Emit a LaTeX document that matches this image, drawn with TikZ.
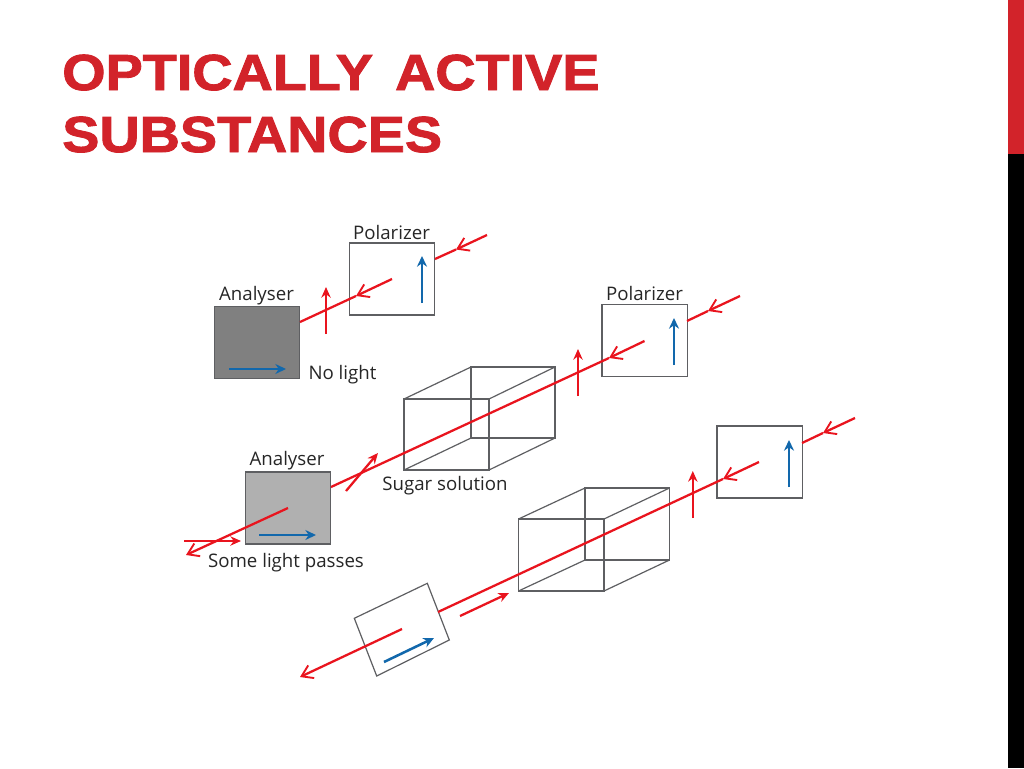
\documentclass[tikz,border=0pt]{standalone}
\usepackage{fontspec}
\setmainfont{Open Sans}
\newfontfamily\titlefont{Liberation Sans Bold}[FakeStretch=1.1,FakeBold=1.8]
\usetikzlibrary{arrows.meta}
\definecolor{rayred}{HTML}{E9141E}
\definecolor{polblue}{HTML}{1268AC}
\definecolor{edgegrey}{HTML}{5E5F62}
\definecolor{titlered}{HTML}{D2232A}
\tikzset{
  px/.style={x=0.75pt,y=-0.75pt},
  platebox/.style={draw=edgegrey,line width=1pt,minimum width=64pt,minimum height=54pt,inner sep=0pt,outer sep=0pt},
  ray/.style={draw=rayred,line width=1.7pt},
  rayhead/.style={ray,-{Straight Barb[length=8pt,width=10.5pt,line width=1.4pt]}},
  raysolid/.style={ray,-{Stealth[length=8pt,width=7pt]}},
  axis/.style={draw=polblue,line width=1.9pt,-{Stealth[length=8pt,width=7.5pt]}},
  edge/.style={draw=edgegrey,line width=0.9pt},
  caption/.style={inner sep=0pt,font=\fontsize{14pt}{16pt}\selectfont,text=black!85},
  heading/.style={inner sep=0pt,anchor=base west,text=titlered,font=\titlefont\fontsize{38pt}{44pt}\selectfont}
}
\begin{document}
\begin{tikzpicture}[px]
\useasboundingbox (0,0) rectangle (1024,768);
\fill[white] (0,0) rectangle (1024,768);
\fill[titlered] (1008,0) rectangle (1024,154);
\fill[black] (1008,154) rectangle (1024,768);
\node[heading] (t1) at (62,90) {OPTICALLY\hspace{5pt} ACTIVE};
\node[heading] (t2) at (62,152) {SUBSTANCES};

% top set-up
\node[platebox,fill=white] (pol1) at (392,279) {};
\node[platebox,fill=black!50] (ana1) at (257,342.5) {};
\node[caption] (lp1) at (391.5,232) {Polarizer};
\node[caption] (la1) at (256.5,295.5) {Analyser};
\node[caption] (ln1) at (342.5,374.5) {No light};
\coordinate (r1a) at (487,235); \coordinate (r1b) at (456,249.5); \coordinate (r1c) at (435,259);
\coordinate (r1d) at (392,279); \coordinate (r1e) at (356,296); \coordinate (r1f) at (300,322);
\coordinate (v1a) at (326,334); \coordinate (v1b) at (326,287);
\coordinate (b1a) at (422,303); \coordinate (b1b) at (422,256);
\coordinate (b1c) at (229,369); \coordinate (b1d) at (286,369);
\draw[rayhead] (r1a) -- (r1b); \draw[ray] (r1b) -- (r1c);
\draw[rayhead] (r1d) -- (r1e); \draw[ray] (r1e) -- (r1f);
\draw[raysolid] (v1a) -- (v1b);
\draw[axis] (b1a) -- (b1b);
\draw[axis] (b1c) -- (b1d);

% middle set-up
\node[platebox,fill=white] (pol2) at (644.5,340.5) {};
\node[platebox,fill=black!31] (ana2) at (288,508) {};
\node[caption] (lp2) at (644.5,293) {Polarizer};
\node[caption] (la2) at (287,461) {Analyser};
\node[caption] (ls2) at (445,485.5) {Sugar solution};
\node[caption] (lq2) at (286,562.5) {Some light passes};
\coordinate (c2a) at (404,399); \coordinate (c2b) at (489,399); \coordinate (c2c) at (489,470); \coordinate (c2d) at (404,470);
\coordinate (c2e) at (471,367); \coordinate (c2f) at (555,367); \coordinate (c2g) at (555,438); \coordinate (c2h) at (471,438);
\draw[edge] (c2a) -- (c2b) -- (c2c) -- (c2d) -- cycle;
\draw[edge] (c2e) -- (c2f) -- (c2g) -- (c2h) -- cycle;
\draw[edge] (c2a) -- (c2e); \draw[edge] (c2b) -- (c2f); \draw[edge] (c2c) -- (c2g); \draw[edge] (c2d) -- (c2h);
\coordinate (r2a) at (740,296); \coordinate (r2b) at (708,311); \coordinate (r2c) at (687,321);
\coordinate (r2d) at (644.5,341); \coordinate (r2e) at (609,358); \coordinate (r2f) at (331,487);
\coordinate (v2a) at (578,396); \coordinate (v2b) at (578,349);
\coordinate (b2a) at (674,365); \coordinate (b2b) at (674,318);
\coordinate (b2c) at (259,535); \coordinate (b2d) at (316,535);
\coordinate (d2a) at (346,491); \coordinate (d2b) at (378,453);
\coordinate (r2g) at (288,508); \coordinate (r2h) at (186,555);
\coordinate (h2a) at (184,541); \coordinate (h2b) at (241,541);
\draw[rayhead] (r2a) -- (r2b); \draw[ray] (r2b) -- (r2c);
\draw[rayhead] (r2d) -- (r2e); \draw[ray] (r2e) -- (r2f);
\draw[raysolid] (v2a) -- (v2b);
\draw[raysolid] (d2a) -- (d2b);
\draw[axis] (b2a) -- (b2b);
\draw[axis] (b2c) -- (b2d);
\draw[rayhead] (r2g) -- (r2h);
\draw[raysolid] (h2a) -- (h2b);

% bottom set-up
\node[platebox,fill=white] (pol3) at (759.5,462) {};
\coordinate (q1) at (354.3,618.3); \coordinate (q2) at (427.3,583.3); \coordinate (q3) at (449.3,640); \coordinate (q4) at (376.7,676);
\draw[edge] (q1) -- (q2) -- (q3) -- (q4) -- cycle;
\coordinate (c3a) at (518.5,519); \coordinate (c3b) at (604,519); \coordinate (c3c) at (604,591); \coordinate (c3d) at (518.5,591);
\coordinate (c3e) at (585,488); \coordinate (c3f) at (669.5,488); \coordinate (c3g) at (669.5,560); \coordinate (c3h) at (585,560);
\draw[edge] (c3a) -- (c3b) -- (c3c) -- (c3d) -- cycle;
\draw[edge] (c3e) -- (c3f) -- (c3g) -- (c3h) -- cycle;
\draw[edge] (c3a) -- (c3e); \draw[edge] (c3b) -- (c3f); \draw[edge] (c3c) -- (c3g); \draw[edge] (c3d) -- (c3h);
\coordinate (r3a) at (855,418); \coordinate (r3b) at (823,433); \coordinate (r3c) at (802,443);
\coordinate (r3d) at (759,462); \coordinate (r3e) at (723,479); \coordinate (r3f) at (438,612);
\coordinate (v3a) at (692.8,518); \coordinate (v3b) at (692.8,471);
\coordinate (b3a) at (789,487); \coordinate (b3b) at (789,440);
\coordinate (s3a) at (460,616); \coordinate (s3b) at (509,593);
\coordinate (r3g) at (402,629); \coordinate (r3h) at (300,677);
\coordinate (b3c) at (384,662); \coordinate (b3d) at (434,638);
\draw[rayhead] (r3a) -- (r3b); \draw[ray] (r3b) -- (r3c);
\draw[rayhead] (r3d) -- (r3e); \draw[ray] (r3e) -- (r3f);
\draw[raysolid] (v3a) -- (v3b);
\draw[raysolid] (s3a) -- (s3b);
\draw[axis] (b3a) -- (b3b);
\draw[axis] (b3c) -- (b3d);
\draw[rayhead] (r3g) -- (r3h);
\end{tikzpicture}
\end{document}
